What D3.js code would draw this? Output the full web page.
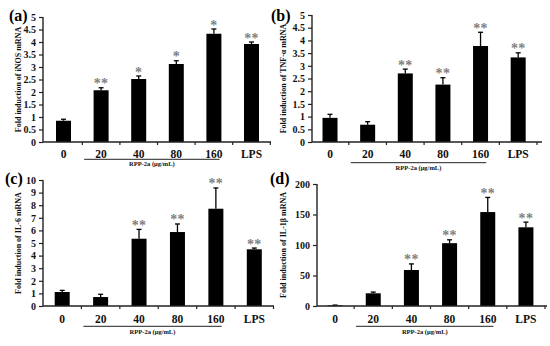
<!DOCTYPE html>
<html><head><meta charset="utf-8">
<script src="https://cdn.jsdelivr.net/npm/d3@7"></script>
<style>
html,body{margin:0;padding:0;background:#fff;}
svg{display:block;}
text{font-family:"Liberation Serif","DejaVu Serif",serif;font-weight:bold;}
</style></head>
<body><svg id="chart" width="550" height="346"></svg>
<script>
const categories = ["0", "20", "40", "80", "160", "LPS"];
const treatedCategories = ["20", "40", "80", "160"];
const xTitle = "RPP-2a (μg/mL)";

const inosMean = [0.85, 2.07, 2.52, 3.12, 4.33, 3.92];
const inosErr  = [0.06, 0.10, 0.12, 0.13, 0.19, 0.08];
const inosSig  = ["", "**", "*", "*", "*", "**"];
const inosTicks = [0, 0.5, 1, 1.5, 2, 2.5, 3, 3.5, 4, 4.5, 5];

const tnfMean = [0.95, 0.68, 2.70, 2.26, 3.78, 3.33];
const tnfErr  = [0.14, 0.12, 0.17, 0.27, 0.54, 0.18];
const tnfSig  = ["", "", "**", "**", "**", "**"];
const tnfTicks = [0, 0.5, 1, 1.5, 2, 2.5, 3, 3.5, 4, 4.5, 5];

const il6Mean = [1.11, 0.71, 5.34, 5.87, 7.72, 4.50];
const il6Err  = [0.13, 0.22, 0.74, 0.64, 1.65, 0.10];
const il6Sig  = ["", "", "**", "**", "**", "**"];
const il6Ticks = [0, 1, 2, 3, 4, 5, 6, 7, 8, 9, 10];

const il1bMean = [1, 20.8, 59, 103, 154, 129];
const il1bErr  = [0.5, 2.0, 10, 5.5, 24, 8.5];
const il1bSig  = ["", "", "**", "**", "**", "**"];
const il1bTicks = [0, 50, 100, 150, 200];

const svg = d3.select("#chart");

function drawPanel(p) {
  const g = svg.append("g");
  const y = d3.scaleLinear().domain([0, p.yMax]).range([p.y0, p.yTop]);
  const x = d3.scaleBand().domain(categories).range([p.bandStart, p.bandEnd]).padding(0);
  const barW = 15;

  const rows = categories.map((c, i) => ({c, m: p.mean[i], e: p.err[i], s: p.sig[i]}));
  g.selectAll("rect.bar").data(rows).enter().append("rect")
    .attr("x", d => x(d.c) + x.bandwidth() / 2 - barW / 2)
    .attr("width", barW)
    .attr("y", d => y(d.m))
    .attr("height", d => Math.max(0.8, y(0) - y(d.m)))
    .attr("fill", "#000");
  g.selectAll("line.err").data(rows).enter().append("line")
    .attr("x1", d => x(d.c) + x.bandwidth() / 2).attr("x2", d => x(d.c) + x.bandwidth() / 2)
    .attr("y1", d => y(d.m)).attr("y2", d => y(d.m + d.e))
    .attr("stroke", "#000").attr("stroke-width", 1.3);
  g.selectAll("line.cap").data(rows).enter().append("line")
    .attr("x1", d => x(d.c) + x.bandwidth() / 2 - 2.5).attr("x2", d => x(d.c) + x.bandwidth() / 2 + 2.5)
    .attr("y1", d => y(d.m + d.e)).attr("y2", d => y(d.m + d.e))
    .attr("stroke", "#000").attr("stroke-width", 1.3);
  g.selectAll("text.sig").data(rows.filter(d => d.s)).enter().append("text")
    .attr("x", d => x(d.c) + x.bandwidth() / 2)
    .attr("y", d => y(d.m + d.e) + 0.5)
    .attr("text-anchor", "middle")
    .attr("font-size", 14)
    .attr("fill", "#7f7f7f")
    .attr("letter-spacing", 0.3)
    .text(d => d.s);

  const ya = g.append("g").attr("transform", `translate(${p.axisX},0)`)
    .call(d3.axisLeft(y).tickValues(p.ticks).tickSize(4).tickPadding(3).tickFormat(d3.format("~g")));
  ya.select(".domain").attr("stroke", "#222").attr("stroke-width", 1.4).attr("d", `M0,${p.y0}V${p.yTop}`);
  ya.selectAll(".tick line").attr("stroke", "#222").attr("stroke-width", 1.2);
  ya.selectAll(".tick text").attr("font-size", 10).attr("font-family", "Liberation Serif").attr("font-weight", "bold").attr("fill", "#111");

  const xa = g.append("g").attr("transform", `translate(0,${p.y0})`);
  xa.append("line").attr("x1", p.axisX).attr("x2", p.axisEnd).attr("y1", 0).attr("y2", 0)
    .attr("stroke", "#222").attr("stroke-width", 1.4);
  const bounds = categories.slice(1).map(c => x(c));
  xa.selectAll("line.xt").data(bounds).enter().append("line")
    .attr("x1", d => d).attr("x2", d => d).attr("y1", 0).attr("y2", 3)
    .attr("stroke", "#222").attr("stroke-width", 1.2);
  xa.append("line").attr("x1", p.bandEnd).attr("x2", p.bandEnd).attr("y1", 0).attr("y2", 3)
    .attr("stroke", "#222").attr("stroke-width", 1.2);
  xa.selectAll("text.xl").data(categories).enter().append("text")
    .attr("x", d => x(d) + x.bandwidth() / 2)
    .attr("y", p.xLabelDy)
    .attr("text-anchor", "middle").attr("font-size", 11.5).attr("fill", "#111")
    .text(d => d);

  const gx0 = x(treatedCategories[0]) + x.bandwidth() * 0.05;
  const gx1 = x(treatedCategories[treatedCategories.length - 1]) + x.bandwidth() * 0.65;
  g.append("line").attr("x1", gx0).attr("x2", gx1).attr("y1", p.underlineY).attr("y2", p.underlineY)
    .attr("stroke", "#222").attr("stroke-width", 1);
  g.append("text").attr("x", (gx0 + gx1) / 2).attr("y", p.titleY)
    .attr("text-anchor", "middle").attr("font-size", 6.5).attr("fill", "#111").text(xTitle);

  g.append("text")
    .attr("transform", `translate(${p.yTitleX},${(p.y0 + p.yTop) / 2}) rotate(-90)`)
    .attr("text-anchor", "middle").attr("font-size", 8).attr("fill", "#111")
    .text(p.yTitle);

  g.append("text").attr("x", p.labX).attr("y", p.labY)
    .attr("font-size", 16).attr("fill", "#000").text(p.label);
}

drawPanel({label: "(a)", labX: 9, labY: 21, yTitle: "Fold induction of iNOS mRNA", yTitleX: 21,
  mean: inosMean, err: inosErr, sig: inosSig, ticks: inosTicks, yMax: 5,
  axisX: 43, axisEnd: 271, y0: 142, yTop: 17, bandStart: 44.7, bandEnd: 270.3,
  xLabelDy: 16, underlineY: 159.3, titleY: 166});
drawPanel({label: "(b)", labX: 271, labY: 21, yTitle: "Fold induction of TNF-α mRNA", yTitleX: 286,
  mean: tnfMean, err: tnfErr, sig: tnfSig, ticks: tnfTicks, yMax: 5,
  axisX: 312, axisEnd: 542, y0: 142, yTop: 15, bandStart: 311.2, bandEnd: 537,
  xLabelDy: 16, underlineY: 162.7, titleY: 170});
drawPanel({label: "(c)", labX: 5, labY: 184, yTitle: "Fold induction of IL-6 mRNA", yTitleX: 21,
  mean: il6Mean, err: il6Err, sig: il6Sig, ticks: il6Ticks, yMax: 10,
  axisX: 43, axisEnd: 274, y0: 306, yTop: 180, bandStart: 43, bandEnd: 273.5,
  xLabelDy: 17, underlineY: 326.3, titleY: 334});
drawPanel({label: "(d)", labX: 270, labY: 184, yTitle: "Fold induction of IL-1β mRNA", yTitleX: 286,
  mean: il1bMean, err: il1bErr, sig: il1bSig, ticks: il1bTicks, yMax: 200,
  axisX: 317, axisEnd: 547, y0: 306, yTop: 184, bandStart: 316, bandEnd: 545,
  xLabelDy: 17, underlineY: 326.3, titleY: 334});
</script></body></html>
